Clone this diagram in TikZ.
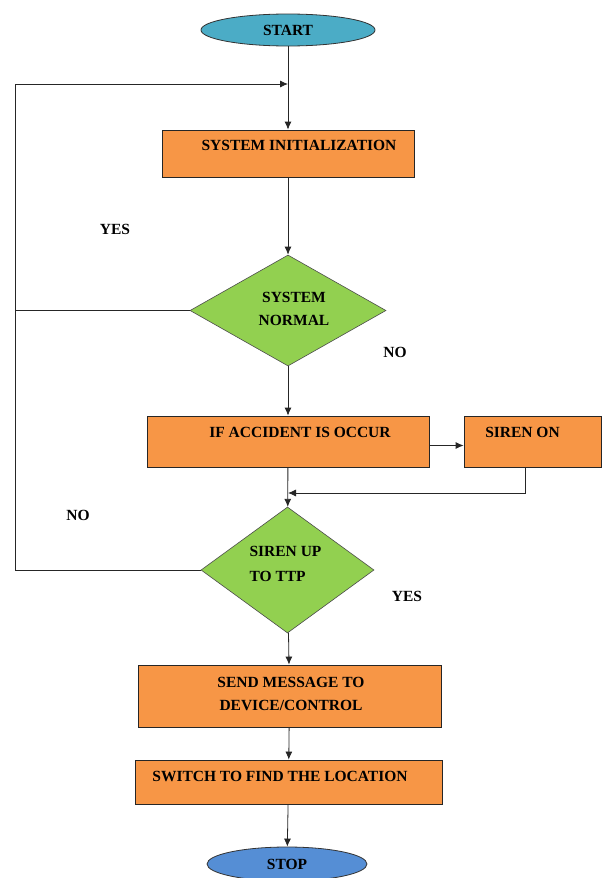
\documentclass[tikz,border=0pt]{standalone}
\usepackage{fontspec}
\setmainfont{Liberation Serif}
\usetikzlibrary{shapes.geometric,arrows.meta}
\definecolor{startc}{RGB}{75,172,198}
\definecolor{stopc}{RGB}{85,142,213}
\definecolor{boxc}{RGB}{247,150,70}
\definecolor{decc}{RGB}{146,208,80}
\begin{document}
\begin{tikzpicture}[x=1pt,y=-1pt,
  font=\bfseries\fontsize{15.5}{22}\selectfont,
  term/.style={ellipse,draw=black!80,line width=0.8pt,inner sep=0pt},
  stepbox/.style={rectangle,draw=black!85,line width=0.8pt,fill=boxc,inner sep=0pt},
  decision/.style={diamond,draw=black!70,line width=0.6pt,fill=decc,inner sep=0pt},
  txt/.style={anchor=center,align=center,inner sep=0pt},
  lbl/.style={inner sep=0pt},
  arr/.style={-{Latex[length=8pt,width=7pt]},line width=0.8pt,draw=black!85},
  ln/.style={line width=0.8pt,draw=black!85}]
\useasboundingbox (0,0) rectangle (603,878);

\node[term,fill=startc,minimum width=174pt,minimum height=32pt] (start) at (288,30) {START};

\node[stepbox,minimum width=252pt,minimum height=47pt,
  label={[txt,xshift=11pt,yshift=8.5pt]center:SYSTEM INITIALIZATION}] (init) at (288,153.5) {};

\node[decision,minimum width=196pt,minimum height=111pt] (sysn) at (288,310.5) {};
\node[txt,align=center] (sysnt) at (294,308.5) {SYSTEM\\[1pt]NORMAL};

\node[stepbox,minimum width=282pt,minimum height=51pt,
  label={[txt,xshift=12pt,yshift=9.5pt]center:IF ACCIDENT IS OCCUR}] (acc) at (288,441.5) {};

\node[stepbox,minimum width=137pt,minimum height=51pt,
  label={[txt,xshift=-10pt,yshift=9.5pt]center:SIREN ON}] (siren) at (532.5,441.5) {};

\node[decision,minimum width=173pt,minimum height=126pt] (sup) at (287.5,570) {};
\node[txt,align=left] (supt) at (285.5,563.5) {SIREN UP\\[3pt]TO TTP};

\node[stepbox,minimum width=303pt,minimum height=62pt,
  label={[txt,xshift=1.5pt,yshift=2pt]center:SEND MESSAGE TO\\[1pt]DEVICE/CONTROL}] (send) at (289.5,696) {};

\node[stepbox,minimum width=307pt,minimum height=44pt,
  label={[txt,xshift=-8.5pt,yshift=6pt]center:SWITCH TO FIND THE LOCATION}] (switch) at (288.5,782) {};

\node[term,fill=stopc,minimum width=160pt,minimum height=34pt] (stop) at (287,864) {STOP};

\node[lbl] (yes1) at (115,229) {YES};
\node[lbl] (no1) at (395,352) {NO};
\node[lbl] (no2) at (78,515) {NO};
\node[lbl] (yes2) at (407,596) {YES};

\coordinate (lt) at (15,84);
\coordinate (top) at (288,84);
\coordinate (merge) at (288,493);

\draw[arr] (start) -- (init);
\draw[arr] (init) -- (sysn);
\draw[arr] (sysn) -- (acc);
\draw[arr] ([yshift=-4pt]acc.east) -- ([yshift=-4pt]siren.west);
\draw[arr] ([xshift=-7pt]siren.south) |- (merge);
\draw[arr] (acc) -- (sup);
\draw[arr] (sysn.west) -| (lt) -- (top);
\draw[ln] (sup.west) -| (lt);
\draw[arr] (sup) -- (send);
\draw[arr] (send) -- (switch);
\draw[arr] (switch) -- (stop);
\end{tikzpicture}
\end{document}
